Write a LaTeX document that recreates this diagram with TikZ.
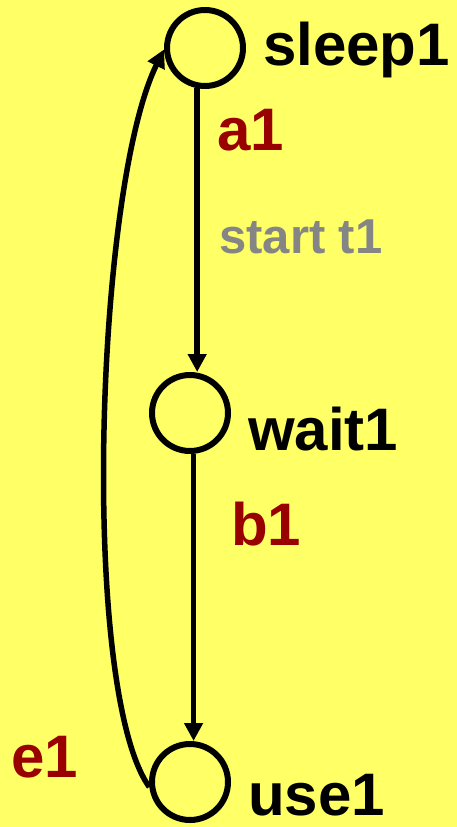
\documentclass[tikz,border=0pt]{standalone}
\usepackage{fontspec}
\setmainfont{Liberation Sans}
\usetikzlibrary{arrows.meta}
\definecolor{bgyellow}{HTML}{FFFF66}
\definecolor{actred}{HTML}{990000}
\definecolor{notegray}{HTML}{858585}

\begin{document}
\begin{tikzpicture}[x=1pt, y=-1pt, >={Triangle[length=18pt,width=18pt]},
  st/.style={draw, circle, line width=6pt, minimum size=76pt, inner sep=0pt},
  stlbl/.style={anchor=base west, inner sep=0pt, font=\fontsize{60}{60}\selectfont\bfseries},
  act/.style={stlbl, text=actred},
  note/.style={anchor=base west, inner sep=0pt, text=notegray, font=\fontsize{49}{49}\selectfont\bfseries},
  tr/.style={line width=5.5pt}
]
% background
\fill[bgyellow] (0,0) rectangle (457,827);
\useasboundingbox (0,0) rectangle (457,827);
% states
\node[st] (sleep1) at (205,48) {};
\node[st] (wait1) at (190,413) {};
\node[st] (use1) at (190,782) {};
\node[stlbl] (lsleep) at (263,65) {sleep1};
\node[stlbl] (lwait) at (248,450) {wait1};
\node[stlbl] (luse) at (248,815) {use1};
% actions
\node[act] (la) at (217,150) {a1};
\node[note] (lstart) at (219,253) {start t1};
\node[act] (lb) at (231,545) {b1};
\node[act] (le) at (11,777) {e1};
% transitions
\draw[tr,->] (sleep1.-101) -- (sleep1.-101 |- wait1.north);
\draw[tr,->] (wait1.-85) -- (wait1.-85 |- use1.north);
\draw[tr,->] (use1.187) .. controls (80,690) and (95,190) .. (sleep1.182);
\end{tikzpicture}
\end{document}
